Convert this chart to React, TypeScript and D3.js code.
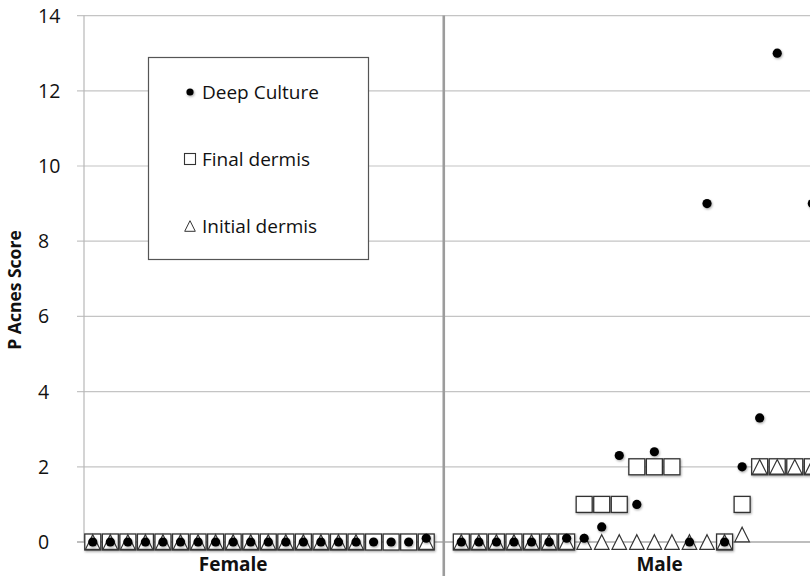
import * as d3 from "d3";
import { useEffect, useRef } from "react";

// categories: 20 female patients, a blank slot (group divider), then male patients
const FEMALE_IDS = d3.range(1, 21).map((i) => `F${i}`);
const MALE_IDS = d3.range(1, 22).map((i) => `M${i}`);

// P acnes score per patient (null = no marker)
const FEMALE_DEEP = [0, 0, 0, 0, 0, 0, 0, 0, 0, 0, 0, 0, 0, 0, 0, 0, 0, 0, 0, 0.1];
const FEMALE_FINAL = [0, 0, 0, 0, 0, 0, 0, 0, 0, 0, 0, 0, 0, 0, 0, 0, 0, 0, 0, 0];
const FEMALE_INITIAL = [0, 0, 0, 0, 0, 0, 0, 0, 0, 0, 0, 0, 0, 0, 0, 0, null, null, null, 0];

const MALE_DEEP = [0, 0, 0, 0, 0, 0, 0.1, 0.1, 0.4, 2.3, 1, 2.4, null, 0, 9, 0, 2, 3.3, 13, null, 9];
const MALE_FINAL = [0, 0, 0, 0, 0, 0, 0, 1, 1, 1, 2, 2, 2, null, null, 0, 1, 2, 2, 2, 2];
const MALE_INITIAL = [0, 0, 0, 0, 0, 0, 0, 0, 0, 0, 0, 0, 0, 0, 0, 0, 0.2, 2, 2, 2, 2];

const Y_TICKS = [0, 2, 4, 6, 8, 10, 12, 14];
const GROUPS = [
  { label: "Female", center: 8 },
  { label: "Male", center: 32.3 },
];
const LEGEND = [
  { key: "deep", label: "Deep Culture" },
  { key: "final", label: "Final dermis" },
  { key: "initial", label: "Initial dermis" },
];

const WIDTH = 810;
const HEIGHT = 576;
const FONT = "'Open Sans', sans-serif";

interface Pt {
  slot: number;
  value: number;
}

function toPoints(values: (number | null)[], offset: number): Pt[] {
  return values
    .map((v, i) => (v === null ? null : { slot: i + offset, value: v }))
    .filter((p): p is Pt => p !== null);
}

const trianglePath = (s: number) => `M0,${-s}L${s},${s}L${-s},${s}Z`;

export default function App() {
  const svgRef = useRef<SVGSVGElement | null>(null);

  useEffect(() => {
    const svg = d3.select(svgRef.current);
    svg.selectAll("*").remove();

    const maleOffset = FEMALE_IDS.length + 1;
    const dividerSlot = FEMALE_IDS.length;
    const totalSlots = FEMALE_IDS.length + 1 + MALE_IDS.length;

    const x = d3.scaleLinear().domain([0, totalSlots]).range([84, 84 + 17.55 * totalSlots]);
    const cx = (slot: number) => x(slot + 0.5);
    const y = d3.scaleLinear().domain([0, 14]).range([542, 15.6]);

    const defs = svg.append("defs");
    const f = defs.append("filter").attr("id", "sh").attr("x", "-50%").attr("y", "-50%").attr("width", "200%").attr("height", "200%");
    f.append("feDropShadow").attr("dx", 0.8).attr("dy", 1.2).attr("stdDeviation", 1).attr("flood-color", "#000").attr("flood-opacity", 0.35);

    svg.append("rect").attr("width", WIDTH).attr("height", HEIGHT).attr("fill", "#fff");

    // gridlines
    svg
      .append("g")
      .selectAll("line")
      .data(Y_TICKS)
      .join("line")
      .attr("x1", 77)
      .attr("x2", WIDTH)
      .attr("y1", (d) => y(d))
      .attr("y2", (d) => y(d))
      .attr("stroke", (d) => (d === 0 ? "#a8a8a8" : "#c4c4c4"))
      .attr("stroke-width", (d) => (d === 0 ? 1.6 : 1.2));

    // y axis line
    svg
      .append("line")
      .attr("x1", 84)
      .attr("x2", 84)
      .attr("y1", y(14))
      .attr("y2", y(0))
      .attr("stroke", "#b8b8b8")
      .attr("stroke-width", 1.2);

    // group divider
    svg
      .append("line")
      .attr("x1", cx(dividerSlot))
      .attr("x2", cx(dividerSlot))
      .attr("y1", y(14))
      .attr("y2", HEIGHT)
      .attr("stroke", "#9c9c9c")
      .attr("stroke-width", 2.6);

    // tick labels
    svg
      .append("g")
      .selectAll("text")
      .data(Y_TICKS)
      .join("text")
      .attr("x", 38)
      .attr("y", (d) => y(d))
      .attr("dy", "0.36em")
      .attr("font-family", FONT)
      .attr("font-size", 19.5)
      .attr("fill", "#111")
      .text((d) => d);

    svg
      .append("text")
      .attr("transform", `translate(21,290) rotate(-90)`)
      .attr("text-anchor", "middle")
      .attr("font-family", FONT)
      .attr("font-weight", 700)
      .attr("font-size", 17.5)
      .attr("fill", "#111")
      .text("P Acnes Score");

    svg
      .append("g")
      .selectAll("text")
      .data(GROUPS)
      .join("text")
      .attr("x", (d) => cx(d.center))
      .attr("y", 571)
      .attr("text-anchor", "middle")
      .attr("font-family", FONT)
      .attr("font-weight", 700)
      .attr("font-size", 19)
      .attr("fill", "#111")
      .text((d) => d.label);

    const deep = [...toPoints(FEMALE_DEEP, 0), ...toPoints(MALE_DEEP, maleOffset)];
    const fin = [...toPoints(FEMALE_FINAL, 0), ...toPoints(MALE_FINAL, maleOffset)];
    const init = [...toPoints(FEMALE_INITIAL, 0), ...toPoints(MALE_INITIAL, maleOffset)];

    const marks = svg.append("g");

    marks
      .append("g")
      .selectAll("rect")
      .data(fin)
      .join("rect")
      .attr("x", (d) => cx(d.slot) - 8)
      .attr("y", (d) => y(d.value) - 8)
      .attr("width", 16)
      .attr("height", 16)
      .attr("fill", "#fff")
      .attr("stroke", "#333")
      .attr("stroke-width", 1.3)
      .attr("filter", "url(#sh)");

    marks
      .append("g")
      .selectAll("path")
      .data(init)
      .join("path")
      .attr("transform", (d) => `translate(${cx(d.slot)},${y(d.value)})`)
      .attr("d", trianglePath(7.3))
      .attr("fill", "#fff")
      .attr("stroke", "#333")
      .attr("stroke-width", 1.2);

    marks
      .append("g")
      .selectAll("circle")
      .data(deep)
      .join("circle")
      .attr("cx", (d) => cx(d.slot))
      .attr("cy", (d) => y(d.value))
      .attr("r", 4.6)
      .attr("fill", "#000")
      .attr("filter", "url(#sh)");

    // legend
    const lg = svg.append("g");
    lg.append("rect")
      .attr("x", 148.5)
      .attr("y", 57.5)
      .attr("width", 220)
      .attr("height", 202)
      .attr("fill", "#fff")
      .attr("stroke", "#555")
      .attr("stroke-width", 1.2);

    const item = lg
      .selectAll("g.item")
      .data(LEGEND)
      .join("g")
      .attr("class", "item")
      .attr("transform", (_, i) => `translate(190,${92 + i * 67})`);

    item.each(function (d) {
      const g = d3.select(this);
      if (d.key === "deep") {
        g.append("circle").attr("r", 3.6).attr("fill", "#000").attr("filter", "url(#sh)");
      } else if (d.key === "final") {
        g.append("rect").attr("x", -5.5).attr("y", -5.5).attr("width", 11).attr("height", 11).attr("fill", "#fff").attr("stroke", "#333").attr("stroke-width", 1.1);
      } else {
        g.append("path").attr("d", trianglePath(5.3)).attr("fill", "#fff").attr("stroke", "#333").attr("stroke-width", 1);
      }
    });

    item
      .append("text")
      .attr("x", 12)
      .attr("dy", "0.36em")
      .attr("font-family", FONT)
      .attr("font-size", 19)
      .attr("fill", "#111")
      .text((d) => d.label);
  }, []);

  return (
    <div style={{ position: "absolute", left: 0, top: 0 }}>
      <svg ref={svgRef} width={WIDTH} height={HEIGHT} style={{ display: "block" }} />
    </div>
  );
}
